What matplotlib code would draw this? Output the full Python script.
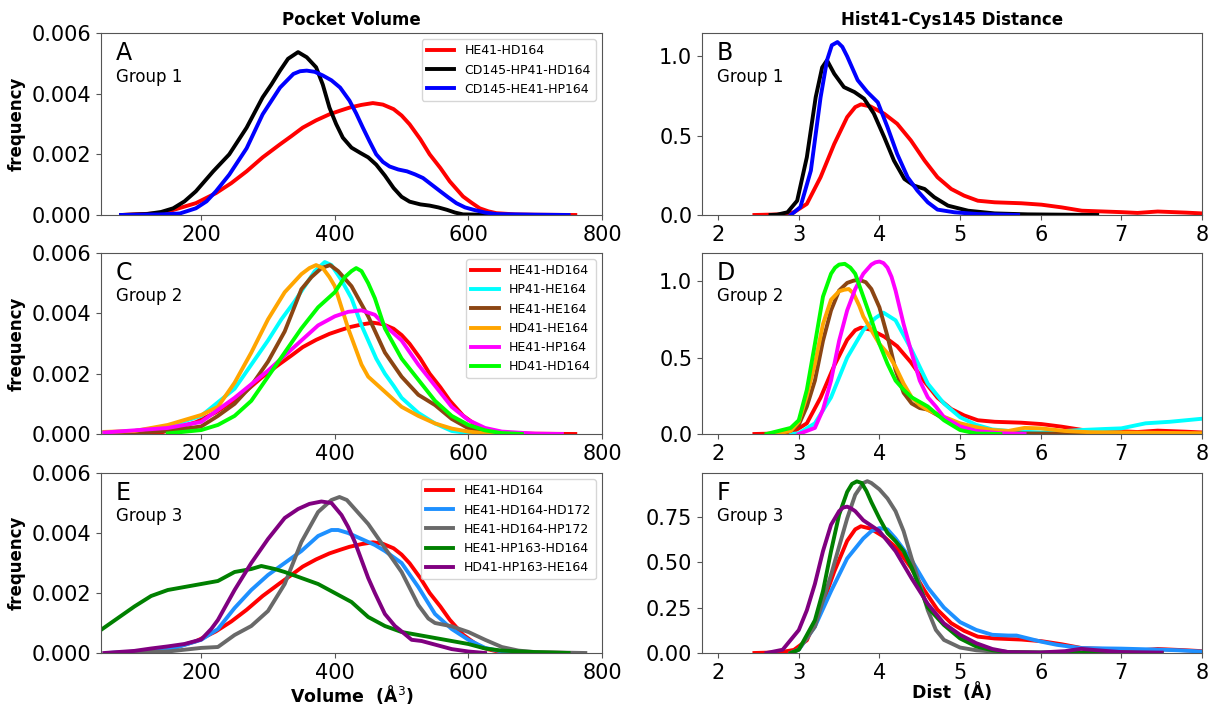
import numpy as np
import matplotlib.pyplot as plt

# ======================== DATA ========================
# --- Pocket volume (x in A^3) ---
vol_he41_hd164_x = [80, 142, 192, 222, 245, 268, 292, 318, 335, 352, 372, 392, 408, 422, 440, 457, 472, 488, 500, 512, 528, 542, 558, 572, 592, 605, 617, 630, 642, 670, 700, 760]
vol_he41_hd164_y = [0.0, 0.00006, 0.00039, 0.00072, 0.00105, 0.00144, 0.0019, 0.00233, 0.0026, 0.00288, 0.00312, 0.00332, 0.00344, 0.00354, 0.00363, 0.00369, 0.00364, 0.00349, 0.00328, 0.00299, 0.0025, 0.002, 0.00155, 0.00111, 0.00061, 0.0004, 0.00022, 0.00012, 0.00006, 0.00002, 0.00001, 0.0]

vol_cd145_hp41_hd164_x = [80, 118, 140, 158, 175, 192, 218, 242, 268, 292, 305, 318, 330, 345, 358, 372, 382, 392, 402, 412, 425, 438, 450, 462, 475, 488, 500, 512, 528, 542, 555, 568, 580, 592, 620, 650]
vol_cd145_hp41_hd164_y = [0.0, 0.00003, 0.0001, 0.00022, 0.00045, 0.00078, 0.00144, 0.002, 0.00288, 0.00388, 0.0043, 0.00476, 0.00515, 0.00537, 0.0052, 0.00487, 0.0043, 0.00354, 0.003, 0.00255, 0.00222, 0.00205, 0.0019, 0.00166, 0.0013, 0.00089, 0.0006, 0.00044, 0.00035, 0.00031, 0.00025, 0.00017, 0.00008, 0.00002, 0.00001, 0.0]

vol_cd145_he41_hp164_x = [80, 140, 168, 192, 208, 222, 242, 268, 292, 318, 338, 348, 358, 370, 382, 395, 408, 422, 432, 442, 452, 462, 472, 482, 495, 508, 520, 532, 545, 558, 570, 582, 595, 608, 625, 642, 700, 750]
vol_cd145_he41_hp164_y = [0.0, 0.00002, 0.00005, 0.00022, 0.00045, 0.00078, 0.00133, 0.0022, 0.00332, 0.0042, 0.00465, 0.00474, 0.00476, 0.00472, 0.0046, 0.00444, 0.0042, 0.00377, 0.00335, 0.00288, 0.00243, 0.002, 0.00175, 0.0016, 0.0015, 0.00144, 0.00134, 0.00122, 0.001, 0.00078, 0.00058, 0.00039, 0.00025, 0.00017, 0.00008, 0.00003, 0.00001, 0.0]

vol_hp41_he164_x = [55, 100, 150, 200, 250, 275, 300, 320, 340, 355, 370, 385, 395, 410, 425, 440, 450, 462, 475, 488, 500, 525, 550, 575, 600, 650]
vol_hp41_he164_y = [0.00005, 0.0001, 0.00025, 0.0006, 0.0015, 0.0023, 0.0031, 0.0038, 0.0044, 0.0049, 0.0054, 0.0057, 0.0056, 0.0051, 0.0045, 0.0036, 0.0031, 0.0025, 0.002, 0.0016, 0.0012, 0.0007, 0.00035, 0.0001, 0.00003, 0.0]

vol_he41_he164_x = [60, 150, 200, 225, 250, 275, 300, 325, 350, 365, 380, 393, 405, 425, 450, 475, 500, 525, 550, 575, 600, 625, 660]
vol_he41_he164_y = [0.0, 0.0001, 0.00025, 0.0006, 0.001, 0.0016, 0.0024, 0.0034, 0.0048, 0.0052, 0.0055, 0.0056, 0.0054, 0.0049, 0.0039, 0.0027, 0.0019, 0.0013, 0.00096, 0.0005, 0.00019, 0.00003, 0.0]

vol_hd41_he164_x = [55, 100, 150, 200, 225, 250, 275, 300, 325, 350, 362, 372, 382, 392, 400, 410, 420, 430, 440, 450, 460, 480, 500, 525, 550, 575, 600, 625, 660]
vol_hd41_he164_y = [0.00007, 0.0001, 0.0003, 0.00063, 0.0009, 0.0017, 0.0027, 0.0038, 0.0047, 0.0053, 0.0055, 0.0056, 0.0055, 0.0052, 0.0049, 0.0042, 0.0035, 0.0029, 0.0023, 0.0019, 0.0017, 0.0013, 0.0009, 0.0006, 0.00035, 0.00018, 0.00008, 0.00002, 0.0]

vol_he41_hp164_x = [55, 150, 200, 250, 300, 350, 375, 400, 420, 440, 460, 475, 500, 525, 550, 575, 600, 625, 650, 700, 740]
vol_he41_hp164_y = [0.00005, 0.0002, 0.0004, 0.0012, 0.0021, 0.0031, 0.0036, 0.0039, 0.00405, 0.0041, 0.00395, 0.0036, 0.0031, 0.0023, 0.0016, 0.0009, 0.00046, 0.0002, 0.00008, 0.00001, 0.0]

vol_hd41_hd164_x = [150, 200, 225, 250, 275, 300, 325, 350, 375, 400, 415, 425, 432, 440, 450, 460, 475, 500, 525, 550, 575, 600, 625, 650, 680]
vol_hd41_hd164_y = [0.00002, 0.00013, 0.0003, 0.0006, 0.0011, 0.0019, 0.0027, 0.0035, 0.0042, 0.0047, 0.0052, 0.0054, 0.0055, 0.0054, 0.005, 0.0045, 0.0035, 0.0025, 0.0018, 0.0011, 0.0006, 0.0003, 0.00012, 0.00003, 0.0]

vol_he41_hd164_hd172_x = [60, 150, 200, 225, 250, 275, 300, 325, 350, 375, 395, 405, 420, 440, 460, 475, 500, 525, 550, 575, 600, 625, 650, 700]
vol_he41_hd164_hd172_y = [0.0, 0.0001, 0.00044, 0.0008, 0.0015, 0.0021, 0.0026, 0.003, 0.0034, 0.0039, 0.0041, 0.0041, 0.004, 0.0038, 0.0036, 0.0034, 0.003, 0.0022, 0.0013, 0.0008, 0.00044, 0.00017, 0.00005, 0.0]

vol_he41_hd164_hp172_x = [60, 150, 200, 225, 250, 275, 300, 325, 350, 375, 395, 407, 418, 430, 450, 475, 500, 525, 540, 550, 575, 600, 625, 650, 675, 700, 775]
vol_he41_hd164_hp172_y = [0.0, 0.00005, 0.00017, 0.0002, 0.0006, 0.0009, 0.0014, 0.0023, 0.0037, 0.0047, 0.0051, 0.0052, 0.0051, 0.0048, 0.0043, 0.0035, 0.0027, 0.0016, 0.00115, 0.001, 0.00089, 0.0007, 0.00044, 0.0002, 0.00008, 0.00003, 0.0]

vol_he41_hp163_hd164_x = [50, 75, 100, 125, 150, 175, 200, 225, 250, 275, 290, 310, 325, 350, 375, 400, 425, 450, 475, 500, 525, 550, 575, 600, 625, 650, 700, 750]
vol_he41_hp163_hd164_y = [0.00077, 0.00116, 0.00155, 0.0019, 0.0021, 0.0022, 0.0023, 0.0024, 0.0027, 0.0028, 0.0029, 0.0028, 0.0027, 0.0025, 0.0023, 0.002, 0.0017, 0.0012, 0.0009, 0.0007, 0.0006, 0.0005, 0.0004, 0.0003, 0.00015, 0.00008, 0.00003, 0.0]

vol_hd41_hp163_he164_x = [55, 100, 125, 150, 175, 200, 215, 225, 250, 275, 300, 325, 345, 362, 380, 395, 410, 420, 430, 440, 450, 460, 475, 490, 500, 515, 530, 550, 575, 600, 625]
vol_hd41_hp163_he164_y = [0.0, 0.00007, 0.00015, 0.00022, 0.0003, 0.00045, 0.0008, 0.0011, 0.0021, 0.003, 0.0038, 0.0045, 0.0048, 0.00497, 0.00505, 0.005, 0.0046, 0.0042, 0.0037, 0.0031, 0.0025, 0.002, 0.0013, 0.0009, 0.00072, 0.00044, 0.0004, 0.00028, 0.00013, 0.00005, 0.0]

# --- Hist41-Cys145 distance (x in A) ---
dist_he41_hd164_x = [2.45, 2.77, 2.94, 3.1, 3.27, 3.44, 3.6, 3.7, 3.77, 3.89, 4.06, 4.22, 4.39, 4.56, 4.72, 4.89, 5.05, 5.22, 5.43, 5.76, 6.01, 6.26, 6.51, 7.0, 7.2, 7.45, 7.8, 8.0]
dist_he41_hd164_y = [0.0, 0.004, 0.017, 0.07, 0.238, 0.448, 0.617, 0.68, 0.697, 0.684, 0.638, 0.575, 0.47, 0.343, 0.238, 0.164, 0.122, 0.09, 0.08, 0.074, 0.065, 0.048, 0.027, 0.018, 0.013, 0.022, 0.015, 0.01]

dist_cd145_hp41_hd164_x = [2.65, 2.73, 2.86, 2.98, 3.1, 3.21, 3.29, 3.35, 3.44, 3.56, 3.69, 3.81, 3.93, 4.06, 4.18, 4.31, 4.43, 4.56, 4.68, 4.85, 5.1, 5.43, 5.84, 6.7]
dist_cd145_hp41_hd164_y = [0.0, 0.002, 0.017, 0.09, 0.364, 0.743, 0.93, 0.975, 0.89, 0.806, 0.775, 0.733, 0.64, 0.49, 0.343, 0.227, 0.185, 0.164, 0.112, 0.059, 0.027, 0.01, 0.004, 0.0]

dist_cd145_he41_hp164_x = [2.9, 3.02, 3.15, 3.27, 3.35, 3.41, 3.48, 3.54, 3.6, 3.73, 3.85, 3.98, 4.1, 4.22, 4.35, 4.47, 4.6, 4.72, 4.93, 5.22, 5.72]
dist_cd145_he41_hp164_y = [0.0, 0.05, 0.28, 0.74, 0.975, 1.07, 1.09, 1.06, 1.0, 0.85, 0.775, 0.71, 0.554, 0.385, 0.238, 0.154, 0.08, 0.034, 0.017, 0.006, 0.0]

dist_hp41_he164_x = [2.9, 3.0, 3.2, 3.4, 3.6, 3.8, 3.95, 4.05, 4.2, 4.4, 4.6, 4.8, 5.0, 5.2, 5.4, 5.6, 6.0, 6.5, 6.8, 7.0, 7.3, 7.6, 8.0]
dist_hp41_he164_y = [0.0, 0.005, 0.07, 0.24, 0.5, 0.68, 0.76, 0.795, 0.745, 0.55, 0.33, 0.2, 0.11, 0.06, 0.03, 0.02, 0.01, 0.026, 0.033, 0.037, 0.07, 0.08, 0.1]

dist_he41_he164_x = [2.7, 2.9, 3.0, 3.1, 3.2, 3.3, 3.4, 3.5, 3.6, 3.68, 3.75, 3.83, 3.9, 4.0, 4.1, 4.2, 4.3, 4.4, 4.5, 4.6, 4.8, 5.0, 5.2, 5.5, 6.0, 7.0, 8.0]
dist_he41_he164_y = [0.0, 0.02, 0.06, 0.18, 0.35, 0.61, 0.81, 0.94, 0.99, 1.005, 1.01, 0.995, 0.95, 0.83, 0.64, 0.42, 0.27, 0.2, 0.17, 0.16, 0.1, 0.05, 0.02, 0.005, 0.003, 0.002, 0.002]

dist_hd41_he164_x = [2.7, 2.9, 3.0, 3.1, 3.2, 3.3, 3.4, 3.5, 3.56, 3.62, 3.68, 3.75, 3.8, 3.9, 4.0, 4.1, 4.2, 4.3, 4.4, 4.5, 4.6, 4.8, 5.0, 5.2, 5.4, 5.6, 5.8, 6.0, 6.3, 6.6, 7.0, 8.0]
dist_hd41_he164_y = [0.0, 0.02, 0.08, 0.25, 0.46, 0.72, 0.88, 0.935, 0.945, 0.95, 0.92, 0.84, 0.77, 0.68, 0.59, 0.53, 0.44, 0.33, 0.24, 0.19, 0.157, 0.113, 0.07, 0.045, 0.026, 0.02, 0.04, 0.037, 0.02, 0.012, 0.01, 0.005]

dist_he41_hp164_x = [3.0, 3.2, 3.3, 3.4, 3.5, 3.6, 3.7, 3.8, 3.9, 3.95, 4.0, 4.05, 4.1, 4.15, 4.2, 4.3, 4.4, 4.5, 4.6, 4.7, 4.8, 5.0, 5.2, 5.5, 5.8]
dist_he41_hp164_y = [0.0, 0.04, 0.16, 0.35, 0.61, 0.81, 0.95, 1.05, 1.11, 1.125, 1.13, 1.12, 1.09, 1.03, 0.94, 0.72, 0.53, 0.35, 0.24, 0.18, 0.11, 0.05, 0.02, 0.005, 0.0]

dist_hd41_hd164_x = [2.6, 2.9, 3.0, 3.1, 3.2, 3.3, 3.4, 3.45, 3.5, 3.57, 3.64, 3.7, 3.8, 3.9, 4.0, 4.1, 4.2, 4.3, 4.4, 4.6, 4.8, 5.0, 5.2, 5.5]
dist_hd41_hd164_y = [0.0, 0.04, 0.09, 0.29, 0.59, 0.9, 1.05, 1.09, 1.11, 1.115, 1.09, 1.05, 0.9, 0.75, 0.59, 0.46, 0.35, 0.29, 0.24, 0.18, 0.09, 0.026, 0.003, 0.0]

dist_he41_hd164_hd172_x = [2.9, 3.0, 3.2, 3.4, 3.6, 3.8, 3.9, 4.0, 4.1, 4.2, 4.4, 4.6, 4.8, 5.0, 5.2, 5.4, 5.6, 5.7, 5.8, 6.0, 6.2, 6.5, 7.0, 7.5, 7.7, 8.0]
dist_he41_hd164_hd172_y = [0.0, 0.018, 0.145, 0.34, 0.52, 0.63, 0.67, 0.687, 0.68, 0.63, 0.51, 0.36, 0.25, 0.17, 0.127, 0.1, 0.096, 0.096, 0.085, 0.063, 0.045, 0.027, 0.024, 0.018, 0.015, 0.008]

dist_he41_hd164_hp172_x = [2.9, 3.0, 3.2, 3.4, 3.6, 3.7, 3.8, 3.85, 3.9, 4.0, 4.1, 4.2, 4.3, 4.4, 4.5, 4.6, 4.7, 4.8, 5.0, 5.2, 5.5, 6.0]
dist_he41_hd164_hp172_y = [0.0, 0.02, 0.145, 0.43, 0.74, 0.87, 0.935, 0.945, 0.935, 0.9, 0.85, 0.78, 0.67, 0.52, 0.38, 0.235, 0.127, 0.072, 0.03, 0.015, 0.005, 0.0]

dist_he41_hp163_hd164_x = [2.9, 3.0, 3.2, 3.3, 3.4, 3.5, 3.6, 3.66, 3.72, 3.78, 3.84, 3.9, 4.0, 4.1, 4.2, 4.3, 4.4, 4.5, 4.6, 4.8, 5.0, 5.2, 5.4, 5.6, 6.0, 7.0, 7.5]
dist_he41_hp163_hd164_y = [0.0, 0.018, 0.18, 0.34, 0.56, 0.76, 0.886, 0.93, 0.944, 0.935, 0.89, 0.83, 0.74, 0.66, 0.615, 0.56, 0.47, 0.36, 0.25, 0.154, 0.08, 0.036, 0.015, 0.005, 0.003, 0.002, 0.0]

dist_hd41_hp163_he164_x = [2.6, 2.8, 3.0, 3.1, 3.2, 3.3, 3.4, 3.5, 3.55, 3.6, 3.65, 3.7, 3.8, 4.0, 4.2, 4.4, 4.6, 4.8, 5.0, 5.2, 5.4, 5.6, 6.0, 6.3, 6.5, 6.7, 7.0, 7.5]
dist_hd41_hp163_he164_y = [0.0, 0.018, 0.126, 0.235, 0.38, 0.56, 0.705, 0.78, 0.8, 0.805, 0.795, 0.78, 0.73, 0.67, 0.56, 0.41, 0.27, 0.163, 0.1, 0.054, 0.022, 0.005, 0.003, 0.01, 0.023, 0.015, 0.005, 0.002]

# ======================== PLOTTING ========================
plt.rcParams['font.family'] = 'DejaVu Sans'
LW = 2.8

fig = plt.figure(figsize=(12.1, 7.06), dpi=100)
W, H = 1210.0, 706.0
rows = [(33, 215), (253, 434), (473, 653)]
cols = [(101, 602), (702, 1202)]
axes = []
for top, bot in rows:
    row = []
    for left, right in cols:
        ax = fig.add_axes([left / W, 1 - bot / H, (right - left) / W, (bot - top) / H])
        row.append(ax)
    axes.append(row)

ax_a, ax_b = axes[0]
ax_c, ax_d = axes[1]
ax_e, ax_f = axes[2]

# Panel A
ax_a.plot(vol_he41_hd164_x, vol_he41_hd164_y, color='red', lw=LW, label='HE41-HD164')
ax_a.plot(vol_cd145_hp41_hd164_x, vol_cd145_hp41_hd164_y, color='black', lw=LW, label='CD145-HP41-HD164')
ax_a.plot(vol_cd145_he41_hp164_x, vol_cd145_he41_hp164_y, color='blue', lw=LW, label='CD145-HE41-HP164')

# Panel B
ax_b.plot(dist_he41_hd164_x, dist_he41_hd164_y, color='red', lw=LW)
ax_b.plot(dist_cd145_hp41_hd164_x, dist_cd145_hp41_hd164_y, color='black', lw=LW)
ax_b.plot(dist_cd145_he41_hp164_x, dist_cd145_he41_hp164_y, color='blue', lw=LW)

# Panel C
ax_c.plot(vol_he41_hd164_x, vol_he41_hd164_y, color='red', lw=LW, label='HE41-HD164')
ax_c.plot(vol_hp41_he164_x, vol_hp41_he164_y, color='cyan', lw=LW, label='HP41-HE164')
ax_c.plot(vol_he41_he164_x, vol_he41_he164_y, color='#8B4513', lw=LW, label='HE41-HE164')
ax_c.plot(vol_hd41_he164_x, vol_hd41_he164_y, color='orange', lw=LW, label='HD41-HE164')
ax_c.plot(vol_he41_hp164_x, vol_he41_hp164_y, color='magenta', lw=LW, label='HE41-HP164')
ax_c.plot(vol_hd41_hd164_x, vol_hd41_hd164_y, color='lime', lw=LW, label='HD41-HD164')

# Panel D
ax_d.plot(dist_he41_hd164_x, dist_he41_hd164_y, color='red', lw=LW)
ax_d.plot(dist_hp41_he164_x, dist_hp41_he164_y, color='cyan', lw=LW)
ax_d.plot(dist_he41_he164_x, dist_he41_he164_y, color='#8B4513', lw=LW)
ax_d.plot(dist_hd41_he164_x, dist_hd41_he164_y, color='orange', lw=LW)
ax_d.plot(dist_he41_hp164_x, dist_he41_hp164_y, color='magenta', lw=LW)
ax_d.plot(dist_hd41_hd164_x, dist_hd41_hd164_y, color='lime', lw=LW)

# Panel E
ax_e.plot(vol_he41_hd164_x, vol_he41_hd164_y, color='red', lw=LW, label='HE41-HD164')
ax_e.plot(vol_he41_hd164_hd172_x, vol_he41_hd164_hd172_y, color='dodgerblue', lw=LW, label='HE41-HD164-HD172')
ax_e.plot(vol_he41_hd164_hp172_x, vol_he41_hd164_hp172_y, color='dimgray', lw=LW, label='HE41-HD164-HP172')
ax_e.plot(vol_he41_hp163_hd164_x, vol_he41_hp163_hd164_y, color='green', lw=LW, label='HE41-HP163-HD164')
ax_e.plot(vol_hd41_hp163_he164_x, vol_hd41_hp163_he164_y, color='purple', lw=LW, label='HD41-HP163-HE164')

# Panel F
ax_f.plot(dist_he41_hd164_x, dist_he41_hd164_y, color='red', lw=LW)
ax_f.plot(dist_he41_hd164_hd172_x, dist_he41_hd164_hd172_y, color='dodgerblue', lw=LW)
ax_f.plot(dist_he41_hd164_hp172_x, dist_he41_hd164_hp172_y, color='dimgray', lw=LW)
ax_f.plot(dist_he41_hp163_hd164_x, dist_he41_hp163_hd164_y, color='green', lw=LW)
ax_f.plot(dist_hd41_hp163_he164_x, dist_hd41_hp163_he164_y, color='purple', lw=LW)

letters = [['A', 'B'], ['C', 'D'], ['E', 'F']]
for i in range(3):
    for j in range(2):
        ax = axes[i][j]
        for s in ax.spines.values():
            s.set_color('#555555')
        ax.tick_params(labelsize=15, color='#555555')
        ax.text(0.03, 0.955, letters[i][j], transform=ax.transAxes, fontsize=17, va='top', ha='left')
        ax.text(0.03, 0.76, 'Group %d' % (i + 1), transform=ax.transAxes, fontsize=12, va='center', ha='left')
    axes[i][0].set_xlim(50, 800)
    axes[i][0].set_ylim(0, 0.006)
    axes[i][0].set_xticks([200, 400, 600, 800])
    axes[i][0].set_yticks([0, 0.002, 0.004, 0.006])
    axes[i][0].set_ylabel('frequency', fontsize=12, fontweight='bold')
    axes[i][1].set_xlim(1.8, 8)
    axes[i][1].set_xticks([2, 3, 4, 5, 6, 7, 8])

ax_b.set_ylim(0, 1.147)
ax_b.set_yticks([0, 0.5, 1.0])
ax_d.set_ylim(0, 1.186)
ax_d.set_yticks([0, 0.5, 1.0])
ax_f.set_ylim(0, 0.99)
ax_f.set_yticks([0, 0.25, 0.5, 0.75])

ax_a.set_title('Pocket Volume', fontsize=12, fontweight='bold')
ax_b.set_title('Hist41-Cys145 Distance', fontsize=12, fontweight='bold')
ax_e.set_xlabel('Volume  (Å$^3$)', fontsize=12.5, fontweight='bold', labelpad=0)
ax_f.set_xlabel('Dist  (Å)', fontsize=12.5, fontweight='bold', labelpad=0)

for ax in (ax_a, ax_c, ax_e):
    ax.legend(loc='upper right', fontsize=9, handlelength=2.2)

fig.savefig('out.png', dpi=100)
